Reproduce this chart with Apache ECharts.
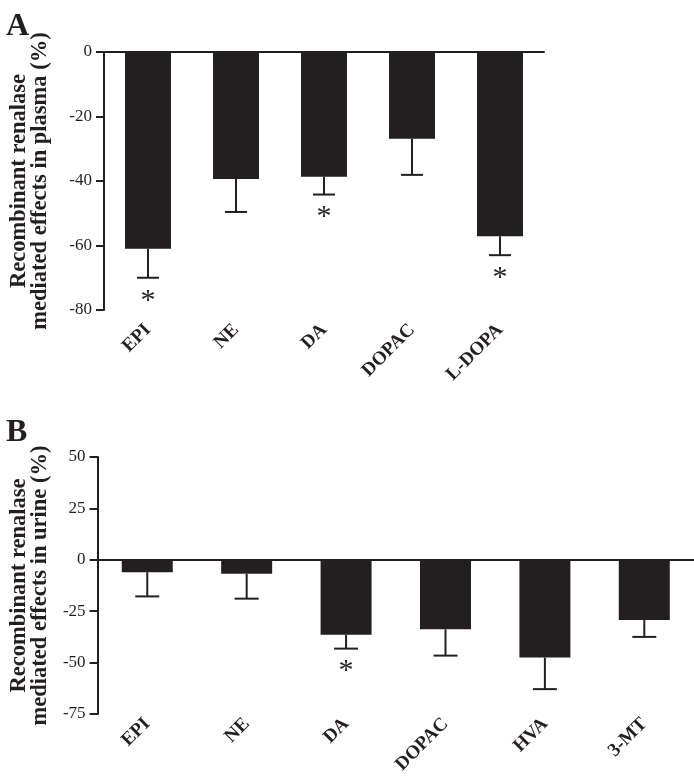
<!DOCTYPE html>
<html>
<head>
<meta charset="utf-8">
<script src="https://cdn.jsdelivr.net/npm/echarts@6/dist/echarts.min.js"></script>
<style>
html,body{margin:0;padding:0;background:#fff;}
#chart{width:694px;height:777px;}
</style>
</head>
<body>
<div id="chart"></div>
<script>
// Panel A: plasma
var catsA = ['EPI', 'NE', 'DA', 'DOPAC', 'L-DOPA'];
var meanA = [-61.0, -39.4, -38.7, -26.9, -57.1];
var errA = [9.0, 10.2, 5.5, 11.2, 5.9];
var sigA = [1, 0, 1, 0, 1];
var ticksA = { min: -80, max: 0, interval: 20 };

// Panel B: urine
var catsB = ['EPI', 'NE', 'DA', 'DOPAC', 'HVA', '3-MT'];
var meanB = [-6.0, -6.8, -36.5, -33.8, -47.5, -29.3];
var errB = [11.8, 12.1, 6.7, 12.8, 15.4, 8.2];
var sigB = [0, 0, 1, 0, 0, 0];
var ticksB = { min: -75, max: 50, interval: 25 };

var INK = '#231f20';
var SERIF = '"Liberation Serif", "DejaVu Serif", serif';

function errData(means, errs, sigs) {
  return means.map(function (m, i) { return [i, m, errs[i], sigs[i]]; });
}

function makeRender(capHalf) {
  return function (params, api) {
    var x = api.value(0), m = api.value(1), e = api.value(2), s = api.value(3);
    var p0 = api.coord([x, m]);
    var p1 = api.coord([x, m - e]);
    var children = [
      { type: 'line', shape: { x1: p0[0], y1: p0[1], x2: p1[0], y2: p1[1] }, style: { stroke: INK, lineWidth: 2 } },
      { type: 'line', shape: { x1: p1[0] - capHalf, y1: p1[1], x2: p1[0] + capHalf, y2: p1[1] }, style: { stroke: INK, lineWidth: 2 } }
    ];
    if (s) {
      children.push({
        type: 'text',
        style: { text: '*', x: p1[0], y: p1[1] + 8, fill: INK, font: '30px ' + SERIF, textAlign: 'center', textVerticalAlign: 'top' }
      });
    }
    return { type: 'group', children: children };
  };
}

function catAxis(grid, cats, margin) {
  return {
    type: 'category', gridIndex: grid, data: cats, position: 'bottom',
    axisLine: { show: false, onZero: false }, axisTick: { show: false },
    axisLabel: { rotate: 45, margin: margin, color: INK, fontFamily: SERIF, fontWeight: 'bold', fontSize: 19, interval: 0 }
  };
}
function zeroAxis(grid, cats, yIdx) {
  return {
    type: 'category', gridIndex: grid, data: cats, position: 'top',
    axisLine: { show: true, onZero: true, onZeroAxisIndex: yIdx, lineStyle: { color: INK, width: 2 } },
    axisTick: { show: false }, axisLabel: { show: false }
  };
}
function valAxis(grid, t, name, gap) {
  return {
    type: 'value', gridIndex: grid, min: t.min, max: t.max, interval: t.interval,
    name: name, nameLocation: 'middle', nameGap: gap, nameRotate: 90,
    nameTextStyle: { color: INK, fontFamily: SERIF, fontWeight: 'bold', fontSize: 22.5, lineHeight: 21 },
    axisLine: { show: true, onZero: false, lineStyle: { color: INK, width: 2 } },
    axisTick: { show: true, length: 8, lineStyle: { color: INK, width: 2 } },
    axisLabel: { color: INK, fontFamily: SERIF, fontSize: 17, margin: 12 },
    splitLine: { show: false }
  };
}

var chart = echarts.init(document.getElementById('chart'), null, { renderer: 'canvas' });
chart.setOption({
  animation: false,
  backgroundColor: '#fff',
  title: [
    { text: 'A', left: 1, top: 6, textStyle: { fontFamily: SERIF, fontWeight: 'bold', fontSize: 32, color: INK } },
    { text: 'B', left: 1, top: 412, textStyle: { fontFamily: SERIF, fontWeight: 'bold', fontSize: 32, color: INK } }
  ],
  grid: [
    { left: 100, right: 150, top: 52, bottom: 467 },
    { left: 93, right: 0, top: 457, bottom: 63 }
  ],
  xAxis: [
    catAxis(0, catsA, 17),
    zeroAxis(0, catsA, 0),
    catAxis(1, catsB, 7),
    zeroAxis(1, catsB, 1)
  ],
  yAxis: [
    valAxis(0, ticksA, 'Recombinant renalase\nmediated effects in plasma (%)', 53),
    valAxis(1, ticksB, 'Recombinant renalase\nmediated effects in urine (%)', 46)
  ],
  series: [
    { type: 'bar', xAxisIndex: 0, yAxisIndex: 0, data: meanA, barWidth: 46, itemStyle: { color: INK } },
    { type: 'custom', xAxisIndex: 0, yAxisIndex: 0, data: errData(meanA, errA, sigA), renderItem: makeRender(11), z: 5 },
    { type: 'bar', xAxisIndex: 2, yAxisIndex: 1, data: meanB, barWidth: 51, itemStyle: { color: INK } },
    { type: 'custom', xAxisIndex: 2, yAxisIndex: 1, data: errData(meanB, errB, sigB), renderItem: makeRender(12), z: 5 }
  ]
});
</script>
</body>
</html>
